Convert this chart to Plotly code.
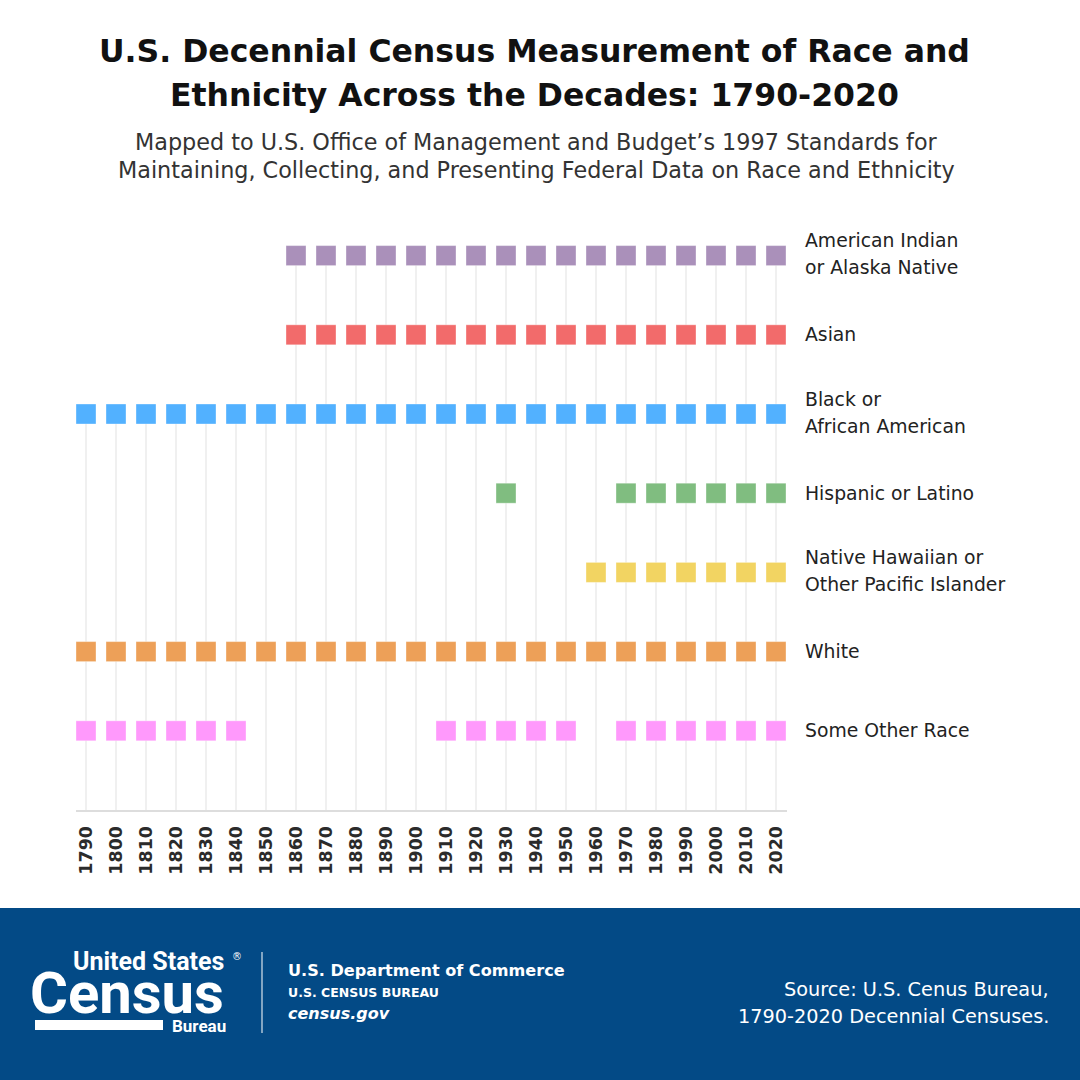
import plotly.graph_objects as go

# ---------------- data ----------------
years = list(range(1790, 2030, 10))
categories = [
    "American Indian or Alaska Native",
    "Asian",
    "Black or African American",
    "Hispanic or Latino",
    "Native Hawaiian or Other Pacific Islander",
    "White",
    "Some Other Race",
]
label_lines = [
    ["American Indian", "or Alaska Native"],
    ["Asian"],
    ["Black or", "African American"],
    ["Hispanic or Latino"],
    ["Native Hawaiian or", "Other Pacific Islander"],
    ["White"],
    ["Some Other Race"],
]
aian_years = list(range(1860, 2030, 10))
asian_years = list(range(1860, 2030, 10))
black_years = list(range(1790, 2030, 10))
hispanic_years = [1930, 1970, 1980, 1990, 2000, 2010, 2020]
nhpi_years = [1960, 1970, 1980, 1990, 2000, 2010, 2020]
white_years = list(range(1790, 2030, 10))
sor_years = [1790, 1800, 1810, 1820, 1830, 1840,
             1910, 1920, 1930, 1940, 1950,
             1970, 1980, 1990, 2000, 2010, 2020]
series_years = [aian_years, asian_years, black_years, hispanic_years,
                nhpi_years, white_years, sor_years]
colors = ["#AA90BA", "#F26B6B", "#52B1FF", "#80BD80", "#F2D462", "#EDA058", "#FF99FC"]
row_pos = [7, 6, 5, 4, 3, 2, 1]

# ---------------- layout helpers ----------------
W, H = 1080, 1080
ML, MR, MT, MB = 76, 293, 224, 270
PW = W - ML - MR
PH = H - MT - MB


def px_x(px):
    return (px - ML) / PW


def px_y(py):
    return (H - MB - py) / PH


fig = go.Figure()

# vertical guide lines from each census year's top-most category down to the axis
gx, gy = [], []
for yr in years:
    tops = [row_pos[i] for i, ys in enumerate(series_years) if yr in ys]
    if tops:
        gx += [yr, yr, None]
        gy += [0, max(tops), None]
fig.add_trace(go.Scatter(x=gx, y=gy, mode="lines",
                         line=dict(color="#E6E6E6", width=1.2),
                         hoverinfo="skip", showlegend=False))

for name, ys, col, rp in zip(categories, series_years, colors, row_pos):
    fig.add_trace(go.Scatter(
        x=ys, y=[rp] * len(ys), mode="markers", name=name,
        marker=dict(symbol="square", size=20, color=col,
                    line=dict(color="rgba(255,255,255,0.35)", width=1)),
        showlegend=False))

FONT = "DejaVu Sans"
LOGO = "Roboto"
ann = []
# category labels on the right
for lines, rp in zip(label_lines, row_pos):
    n = len(lines)
    for k, t in enumerate(lines):
        shift = (k - (n - 1) / 2) * -27 + (1.5 if n > 1 else 0)
        ann.append(dict(x=px_x(803), y=rp, xref="paper", yref="y", text=t,
                        showarrow=False, xanchor="left", yanchor="middle",
                        yshift=shift,
                        font=dict(family=FONT, size=18.8, color="#222222")))

# title / subtitle
for t, py in [("U.S. Decennial Census Measurement of Race and", 51),
              ("Ethnicity Across the Decades: 1790-2020", 95)]:
    ann.append(dict(x=px_x(534), y=px_y(py), xref="paper", yref="paper", text="<b>" + t + "</b>",
                    showarrow=False, xanchor="center", yanchor="middle",
                    font=dict(family=FONT, size=31.5, color="#111111")))
for t, py in [("Mapped to U.S. Office of Management and Budget’s 1997 Standards for", 142),
              ("Maintaining, Collecting, and Presenting Federal Data on Race and Ethnicity", 170)]:
    ann.append(dict(x=px_x(536), y=px_y(py), xref="paper", yref="paper", text=t,
                    showarrow=False, xanchor="center", yanchor="middle",
                    font=dict(family=FONT, size=22.3, color="#333333")))

# footer texts
ann += [
    dict(x=px_x(286), y=px_y(970.5), text="<b>U.S. Department of Commerce</b>", xanchor="left",
         font=dict(family=FONT, size=16.1, color="white")),
    dict(x=px_x(286), y=px_y(992.5), text="<b>U.S. CENSUS BUREAU</b>", xanchor="left",
         font=dict(family=FONT, size=12.5, color="white")),
    dict(x=px_x(286), y=px_y(1013), text="<b><i>census.gov</i></b>", xanchor="left",
         font=dict(family=FONT, size=16, color="white")),
    dict(x=px_x(1051), y=px_y(989), text="Source: U.S. Cenus Bureau,", xanchor="right",
         font=dict(family=FONT, size=19.3, color="white")),
    dict(x=px_x(1051), y=px_y(1016), text="1790-2020 Decennial Censuses.", xanchor="right",
         font=dict(family=FONT, size=19.3, color="white")),
    dict(x=px_x(226), y=px_y(961), text="<b>United States</b>", xanchor="right",
         height=26, font=dict(family=LOGO, size=25, color="white")),
    dict(x=px_x(237), y=px_y(956), text="®", xanchor="center",
         font=dict(family=FONT, size=10, color="white")),
    dict(x=px_x(226), y=px_y(993), text="<b>Census</b>", xanchor="right",
         height=50, font=dict(family=LOGO, size=58, color="white")),
    dict(x=px_x(228), y=px_y(1026), text="<b>Bureau</b>", xanchor="right",
         height=16, font=dict(family=LOGO, size=17, color="white")),
]
for a in ann:
    a.setdefault("xref", "paper")
    a.setdefault("yref", "paper")
    a.setdefault("showarrow", False)
    a.setdefault("yanchor", "middle")

shapes = [
    dict(type="rect", xref="paper", yref="paper", x0=px_x(0), x1=px_x(W), y0=px_y(908), y1=px_y(1080),
         fillcolor="#034A86", line=dict(width=0), layer="below"),
    dict(type="line", xref="paper", yref="paper", x0=px_x(262), x1=px_x(262), y0=px_y(952), y1=px_y(1033),
         line=dict(color="rgba(255,255,255,0.85)", width=1.2)),
    dict(type="path", xref="paper", yref="paper",
         path=f"M {px_x(37)},{px_y(1022)} L {px_x(161)},{px_y(1022)} L {px_x(161)},{px_y(1028)} L {px_x(37)},{px_y(1028)} Z",
         fillcolor="white", line=dict(color="white", width=4)),
]

fig.update_layout(
    width=W, height=H,
    margin=dict(l=ML, r=MR, t=MT, b=MB),
    paper_bgcolor="white", plot_bgcolor="white",
    xaxis=dict(range=[1790 - 10 / 3, 2020 + 11 / 3], tickmode="array", tickvals=years,
               ticktext=[str(y) for y in years], tickangle=-90,
               tickfont=dict(family=FONT, size=17.5, color="#2B2B2B", weight="bold"),
               showgrid=False, zeroline=False, showline=True, linecolor="#DDDDDD", linewidth=2,
               ticks="", ticklabelstandoff=7),
    yaxis=dict(range=[0, PH / 79.2], visible=False, showgrid=False, zeroline=False),
    annotations=ann,
    shapes=shapes,
    showlegend=False,
)

fig.write_html("out.html")
